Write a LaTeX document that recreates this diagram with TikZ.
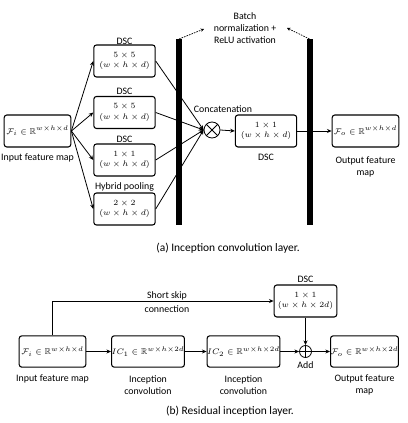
\documentclass[tikz,border=0pt]{standalone}
\usepackage{amsmath,amssymb}
\usepackage{fontspec}
\setmainfont{Carlito}
\usetikzlibrary{arrows.meta}
\begin{document}
\begin{tikzpicture}[x=0.75pt,y=-0.75pt,
  font=\fontsize{7.4}{9}\selectfont,
  box/.style={draw,rounded corners=2pt,line width=0.8pt,inner sep=0pt,align=center,font=\fontsize{6.4}{8}\selectfont},
  conn/.style={line width=0.6pt,-{Stealth[length=3.5pt,width=3pt]}},
  lbl/.style={align=center,inner sep=0pt},
  bnarrow/.style={line width=0.5pt,dash pattern=on 1.2pt off 0.8pt,-{Stealth[length=2.5pt,width=2.5pt]}},
  bar/.style={fill=black,draw=none}]
\useasboundingbox (0,0) rectangle (407,423);
% ---------- (a) ----------
\node[box,minimum width=50pt,minimum height=24pt] (in) at (37.5,131) {$\mathcal{F}_i\in\mathbb{R}^{w\times h\times d}$};
\node[lbl] (inl) at (37.5,158) {Input feature map};
\node[box,minimum width=46pt,minimum height=24pt] (d1) at (124.5,61) {$5\times5$\\$(w\times h\times d)$};
\node[box,minimum width=46pt,minimum height=24pt] (d2) at (124.5,112.5) {$5\times5$\\$(w\times h\times d)$};
\node[box,minimum width=46pt,minimum height=24pt] (d3) at (124.5,160) {$1\times1$\\$(w\times h\times d)$};
\node[box,minimum width=46pt,minimum height=24pt] (d4) at (124.5,209) {$2\times2$\\$(w\times h\times d)$};
\node[lbl] (d1l) at (124.5,41) {DSC};
\node[lbl] (d2l) at (124.5,91) {DSC};
\node[lbl] (d3l) at (124.5,139.5) {DSC};
\node[lbl] (d4l) at (124.5,187) {Hybrid pooling};
\node[draw,circle,line width=0.6pt,minimum size=12pt,inner sep=0pt] (cat) at (212,130) {};
\draw[line width=0.6pt] (cat.north west) -- (cat.south east) (cat.north east) -- (cat.south west);
\node[lbl] (catl) at (223,109.5) {Concatenation};
\node[box,minimum width=46pt,minimum height=24pt] (d5) at (266,131) {$1\times1$\\$(w\times h\times d)$};
\node[lbl] (d5l) at (266,157) {DSC};
\node[box,minimum width=50pt,minimum height=24pt] (out) at (365.5,131) {$\mathcal{F}_o\in\mathbb{R}^{w\times h\times d}$};
\node[lbl] (outl) at (365.5,167) {Output feature\\map};
\foreach \b in {d1,d2,d3,d4} {
  \draw[conn] (in.east) -- (\b.west);
  \draw[conn] (\b.east) -- (cat.west);
}
\draw[conn] (cat.east) -- (d5.west);
\draw[conn] (d5.east) -- (out.west);
\fill[bar] (176,39) rectangle (182,225);
\fill[bar] (306.5,39) rectangle (312.5,225);
\coordinate (b1) at (179,39);
\coordinate (b2) at (309.5,39);
\node[lbl] (bn) at (245,28.5) {Batch\\normalization +\\ReLU activation};
\draw[bnarrow] (b1) -- (204,29);
\draw[bnarrow] (b2) -- (287,28);
\node[lbl,font=\fontsize{8.6}{10}\selectfont] (capa) at (228,248) {(a) Inception convolution layer.};
% ---------- (b) ----------
\node[box,minimum width=50pt,minimum height=23.5pt] (bi) at (52.5,351.5) {$\mathcal{F}_i\in\mathbb{R}^{w\times h\times d}$};
\node[lbl] (bil) at (52.5,378.5) {Input feature map};
\node[box,minimum width=51pt,minimum height=23.5pt] (ic1) at (148,351.5) {$IC_1\in\mathbb{R}^{w\times h\times 2d}$};
\node[lbl] (ic1l) at (148,385) {Inception\\convolution};
\node[box,minimum width=51pt,minimum height=23.5pt] (ic2) at (243.5,351.5) {$IC_2\in\mathbb{R}^{w\times h\times 2d}$};
\node[lbl] (ic2l) at (243.5,385) {Inception\\convolution};
\node[draw,circle,line width=0.6pt,minimum size=9pt,inner sep=0pt] (add) at (305.5,351.5) {};
\draw[line width=0.6pt] (add.north) -- (add.south) (add.west) -- (add.east);
\node[lbl] (addl) at (305.5,365.5) {Add};
\node[box,minimum width=50pt,minimum height=23.5pt] (bo) at (364.5,351.5) {$\mathcal{F}_o\in\mathbb{R}^{w\times h\times 2d}$};
\node[lbl] (bol) at (364.5,385) {Output feature\\map};
\node[box,minimum width=47pt,minimum height=24pt] (bd) at (305.5,301) {$1\times1$\\$(w\times h\times 2d)$};
\node[lbl] (bdl) at (305.5,279.5) {DSC};
\draw[conn] (bi.east) -- (ic1.west);
\draw[conn] (ic1.east) -- (ic2.west);
\draw[conn] (ic2.east) -- (add.west);
\draw[conn] (add.east) -- (bo.west);
\draw[conn] (bd.south) -- (add.north);
\draw[conn] (bi.north) |- (bd.west);
\node[lbl] (skip) at (167,302) {Short skip\\[2pt]connection};
\node[lbl,font=\fontsize{8.6}{10}\selectfont] (capb) at (230,411) {(b) Residual inception layer.};
\end{tikzpicture}
\end{document}
